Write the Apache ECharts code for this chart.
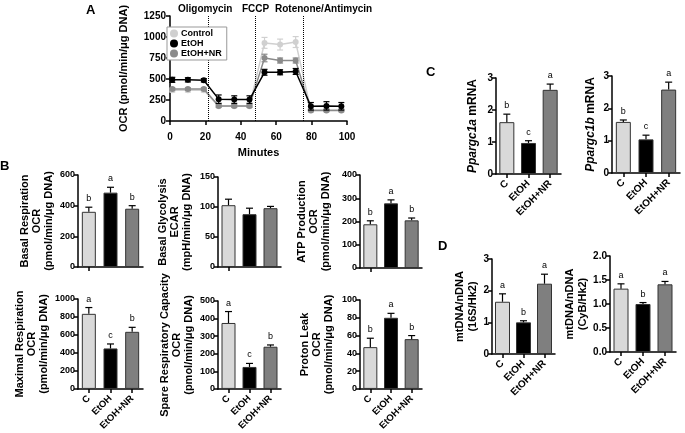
<!DOCTYPE html>
<html><head><meta charset="utf-8">
<script src="https://cdn.jsdelivr.net/npm/echarts@6/dist/echarts.min.js"></script>
<style>html,body{margin:0;padding:0;background:#fff}#c{width:685px;height:433px}</style>
</head><body><div id="c"></div>
<script>
// ---------- DATA ----------
const timeMin = [1.3, 10.1, 19.1, 27.5, 36.3, 44.9, 53.4, 62.2, 71.0, 79.6, 88.4, 96.8];
const ocrControl = [365, 365, 365, 175, 175, 175, 930, 910, 940, 130, 130, 130];
const ocrControlErr = [20, 20, 20, 15, 15, 15, 65, 65, 65, 15, 15, 15];
const ocrEtOH = [490, 490, 485, 260, 255, 255, 580, 580, 590, 175, 180, 175];
const ocrEtOHErr = [30, 25, 20, 50, 45, 45, 35, 30, 35, 45, 50, 45];
const ocrNR = [380, 380, 380, 180, 180, 180, 750, 720, 720, 125, 125, 125];
const ocrNRErr = [15, 15, 15, 15, 15, 15, 45, 30, 30, 15, 15, 15];
const injectTimes = [21.5, 48, 75.5];
const injectNames = ['Oligomycin', 'FCCP', 'Rotenone/Antimycin'];
const seriesNames = ['Control', 'EtOH', 'EtOH+NR'];

const cats = ['C', 'EtOH', 'EtOH+NR'];
const basalResp = [360, 485, 380], basalRespErr = [30, 35, 20], basalRespLet = ['b', 'a', 'b'];
const basalGly = [103, 88, 98], basalGlyErr = [10, 10, 3], basalGlyLet = ['', '', ''];
const atpProd = [188, 278, 205], atpProdErr = [15, 15, 10], atpProdLet = ['b', 'a', 'b'];
const maxResp = [835, 450, 635], maxRespErr = [70, 50, 50], maxRespLet = ['a', 'c', 'b'];
const spareResp = [375, 125, 240], spareRespErr = [65, 20, 10], spareRespLet = ['a', 'c', 'b'];
const protonLeak = [47, 80, 56], protonLeakErr = [10, 5, 4], protonLeakLet = ['b', 'a', 'b'];
const ppargc1a = [1.62, 0.97, 2.63], ppargc1aErr = [0.25, 0.07, 0.18], ppargc1aLet = ['b', 'c', 'a'];
const ppargc1b = [1.58, 1.04, 2.58], ppargc1bErr = [0.06, 0.13, 0.23], ppargc1bLet = ['b', 'c', 'a'];
const mt16S = [1.65, 1.0, 2.22], mt16SErr = [0.25, 0.05, 0.30], mt16SLet = ['a', 'b', 'a'];
const mtCyB = [1.32, 1.0, 1.41], mtCyBErr = [0.10, 0.03, 0.06], mtCyBLet = ['a', 'b', 'a'];

// ---------- STYLE ----------
const FONT = 'Liberation Sans';
const fills = ['#d9d9d9', '#000000', '#7f7f7f'];
const lineColors = ['#d0d0d0', '#000000', '#8a8a8a'];
const axisLine = { show: true, lineStyle: { color: '#000', width: 1.5 } };
const axisTick = { show: true, length: 4, lineStyle: { color: '#000', width: 1.5 } };

const chart = echarts.init(document.getElementById('c'), null, { renderer: 'canvas' });
const grid = [], xAxis = [], yAxis = [], series = [];

// ---------- PANEL A ----------
grid.push({ left: 170, top: 16, width: 177, height: 105 });
xAxis.push({ type: 'value', gridIndex: 0, min: 0, max: 100, interval: 20, offset: 6,
  axisLine, axisTick, splitLine: { show: false },
  axisLabel: { fontFamily: FONT, fontWeight: 'bold', fontSize: 10, color: '#000', margin: 5 },
  name: 'Minutes', nameLocation: 'middle', nameGap: 20,
  nameTextStyle: { fontFamily: FONT, fontWeight: 'bold', fontSize: 11, color: '#000' } });
yAxis.push({ type: 'value', gridIndex: 0, min: 0, max: 1250, interval: 250,
  axisLine, axisTick, splitLine: { show: false },
  axisLabel: { fontFamily: FONT, fontWeight: 'bold', fontSize: 10, color: '#000', margin: 4, formatter: v => String(v) },
  name: 'OCR (pmol/min/μg DNA)', nameLocation: 'middle', nameGap: 41,
  nameTextStyle: { fontFamily: FONT, fontWeight: 'bold', fontSize: 11, color: '#000' } });

const ocrSets = [[ocrControl, ocrControlErr], [ocrEtOH, ocrEtOHErr], [ocrNR, ocrNRErr]];
const zOrder = [2, 4, 3];
ocrSets.forEach(([vals, errs], k) => {
  series.push({ type: 'line', name: seriesNames[k], xAxisIndex: 0, yAxisIndex: 0,
    data: timeMin.map((t, i) => [t, vals[i]]), symbol: 'circle', symbolSize: 6,
    color: lineColors[k], lineStyle: { width: 1.5, color: lineColors[k] },
    itemStyle: { color: lineColors[k] }, z: zOrder[k], animation: false,
    markLine: k === 0 ? { silent: true, symbol: ['none', 'none'], label: { show: false },
      lineStyle: { type: 'dotted', color: '#000', width: 1 },
      data: injectTimes.map(t => ({ xAxis: t })) } : undefined });
  series.push({ type: 'custom', xAxisIndex: 0, yAxisIndex: 0, z: zOrder[k], animation: false,
    data: timeMin.map((t, i) => [t, vals[i], errs[i]]),
    encode: { x: 0, y: 1 },
    renderItem: (params, api) => {
      const x = api.value(0), v = api.value(1), e = api.value(2);
      const lo = api.coord([x, v - e]), hi = api.coord([x, v + e]);
      const st = { stroke: lineColors[k], lineWidth: 1.2 };
      return { type: 'group', children: [
        { type: 'line', shape: { x1: lo[0], y1: lo[1], x2: hi[0], y2: hi[1] }, style: st },
        { type: 'line', shape: { x1: hi[0] - 3, y1: hi[1], x2: hi[0] + 3, y2: hi[1] }, style: st },
        { type: 'line', shape: { x1: lo[0] - 3, y1: lo[1], x2: lo[0] + 3, y2: lo[1] }, style: st }
      ] };
    } });
});

// ---------- BAR PANELS ----------
function barPanel(rect, vals, errs, lets, yMax, yInt, yName, o) {
  const gi = grid.length;
  grid.push(rect);
  xAxis.push({ type: 'category', gridIndex: gi, data: cats, axisLine,
    axisTick: Object.assign({ alignWithLabel: true }, axisTick),
    axisLabel: o.xLabels ? { rotate: 45, fontFamily: FONT, fontWeight: 'bold', fontSize: o.xFont || 9.5, color: '#000', margin: 8, interval: 0 } : { show: false } });
  yAxis.push({ type: 'value', gridIndex: gi, min: 0, max: yMax, interval: yInt, axisLine, axisTick,
    splitLine: { show: false },
    axisLabel: { fontFamily: FONT, fontWeight: 'bold', fontSize: o.yFont || 9, color: '#000', margin: 3,
      formatter: o.fmt || (v => String(v)) },
    name: yName, nameLocation: 'middle', nameRotate: 90, nameGap: o.gap,
    nameTextStyle: { fontFamily: FONT, fontWeight: 'bold', fontSize: o.nameFont || 11, color: '#000',
      lineHeight: o.lh || 12, align: 'center',
      rich: { i: { fontFamily: FONT, fontStyle: 'italic', fontWeight: 'bold', fontSize: o.nameFont || 11 },
              n: { fontFamily: FONT, fontWeight: 'bold', fontSize: o.nameFont || 11 } } } });
  series.push({ type: 'bar', xAxisIndex: gi, yAxisIndex: gi, barWidth: o.bw || 14, z: 2, animation: false,
    data: vals.map((v, i) => ({ value: v, itemStyle: { color: fills[i] } })),
    itemStyle: { borderColor: '#333', borderWidth: 1 } });
  series.push({ type: 'custom', xAxisIndex: gi, yAxisIndex: gi, z: 3, animation: false,
    data: vals.map((v, i) => [i, v, errs[i]]), encode: { x: 0, y: 1 },
    renderItem: (params, api) => {
      const i = api.value(0), v = api.value(1), e = api.value(2);
      const p0 = api.coord([i, v]), p1 = api.coord([i, v + e]);
      const st = { stroke: '#000', lineWidth: 1.2 };
      return { type: 'group', children: [
        { type: 'line', shape: { x1: p0[0], y1: p0[1], x2: p1[0], y2: p1[1] }, style: st },
        { type: 'line', shape: { x1: p1[0] - 3.5, y1: p1[1], x2: p1[0] + 3.5, y2: p1[1] }, style: st },
        { type: 'text', style: { text: lets[params.dataIndex], x: p1[0], y: p1[1] - 4, align: 'center',
          verticalAlign: 'bottom', fontFamily: FONT, fontSize: 9, fill: '#000' } }
      ] };
    } });
}

barPanel({ left: 78, top: 175, width: 65, height: 92 }, basalResp, basalRespErr, basalRespLet, 600, 200,
  'Basal Respiration\nOCR\n(pmol/min/μg DNA)', { gap: 23 });
barPanel({ left: 218, top: 177, width: 63, height: 90 }, basalGly, basalGlyErr, basalGlyLet, 150, 50,
  'Basal Glycolysis\nECAR\n(mpH/min/μg DNA)', { gap: 25 });
barPanel({ left: 360, top: 175, width: 62, height: 93 }, atpProd, atpProdErr, atpProdLet, 400, 100,
  'ATP Production\nOCR\n(pmol/min/μg DNA)', { gap: 28 });
barPanel({ left: 78, top: 299, width: 65, height: 92 }, maxResp, maxRespErr, maxRespLet, 1000, 200,
  'Maximal Respiration\nOCR\n(pmol/min/μg DNA)', { gap: 28, xLabels: true });
barPanel({ left: 218, top: 301, width: 63, height: 88 }, spareResp, spareRespErr, spareRespLet, 500, 100,
  'Spare Respiratory Capacity\nOCR\n(pmol/min/μg DNA)', { gap: 23, xLabels: true });
barPanel({ left: 360, top: 300, width: 62, height: 89 }, protonLeak, protonLeakErr, protonLeakLet, 100, 20,
  'Proton Leak\nOCR\n(pmol/min/μg DNA)', { gap: 25, xLabels: true });
barPanel({ left: 496, top: 78, width: 65, height: 96 }, ppargc1a, ppargc1aErr, ppargc1aLet, 3, 1,
  '{i|Ppargc1a}{n| mRNA}', { gap: 17, xLabels: true, bw: 15, nameFont: 12, yFont: 10, xFont: 10 });
barPanel({ left: 612, top: 76, width: 68, height: 97 }, ppargc1b, ppargc1bErr, ppargc1bLet, 3, 1,
  '{i|Ppargc1b}{n| mRNA}', { gap: 15, xLabels: true, bw: 15, nameFont: 12, yFont: 10, xFont: 10 });
barPanel({ left: 492, top: 259, width: 63, height: 95 }, mt16S, mt16SErr, mt16SLet, 3, 1,
  'mtDNA/nDNA\n(16S/Hk2)', { gap: 11, xLabels: true, bw: 15, yFont: 10, xFont: 10, lh: 13 });
barPanel({ left: 610, top: 256, width: 66, height: 96 }, mtCyB, mtCyBErr, mtCyBLet, 2, 0.5,
  'mtDNA/nDNA\n(CyB/Hk2)', { gap: 6, xLabels: true, bw: 15, yFont: 10, xFont: 10, lh: 13, fmt: v => v.toFixed(1) });

// ---------- TEXT ----------
const txt = (t, x, y, size, extra) => Object.assign({ type: 'text', left: x, top: y,
  style: { text: t, fontFamily: FONT, fontWeight: 'bold', fontSize: size, fill: '#000' } }, extra || {});
const graphic = [
  txt('A', 86, 4, 13), txt('B', 0, 160, 13), txt('C', 426, 66, 13), txt('D', 438, 240, 13),
  txt(injectNames[0], 178, 4, 10), txt(injectNames[1], 242, 4, 10), txt(injectNames[2], 275, 4, 10)
];

chart.setOption({
  animation: false,
  textStyle: { fontFamily: FONT },
  grid, xAxis, yAxis, series, graphic,
  legend: { data: seriesNames.map(n => ({ name: n, icon: 'circle' })), orient: 'vertical', left: 167, top: 27,
    itemWidth: 8, itemHeight: 8, itemGap: 1, borderColor: '#999', borderWidth: 1, padding: [2, 5, 2, 3],
    textStyle: { fontFamily: FONT, fontWeight: 'bold', fontSize: 9, color: '#000', padding: [0, 0, 0, -2] },
    selectedMode: false, backgroundColor: '#fff', z: 10 }
});
</script></body></html>
